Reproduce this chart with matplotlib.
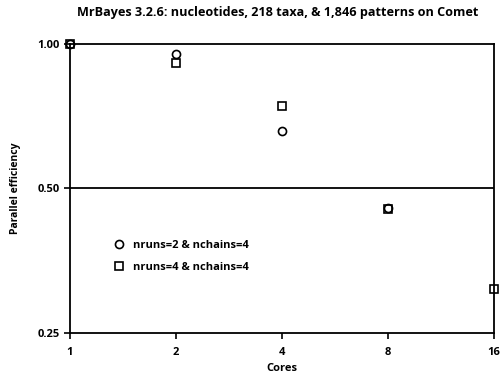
import matplotlib as mpl
import matplotlib.pyplot as plt
from matplotlib.ticker import FixedLocator, NullLocator

# parallel efficiency of MrBayes runs on Comet
cores_a = [1, 2, 4, 8]
eff_a = [1.00, 0.953, 0.657, 0.455]
label_a = 'nruns=2 & nchains=4'

cores_b = [1, 2, 4, 8, 16]
eff_b = [1.00, 0.913, 0.744, 0.453, 0.309]
label_b = 'nruns=4 & nchains=4'

xticks = [1, 2, 4, 8, 16]
yticks = [0.25, 0.50, 1.00]
ytick_labels = ['0.25', '0.50', '1.00']

mpl.rcParams['font.family'] = 'Open Sans'
mpl.rcParams['font.weight'] = 'bold'
mpl.rcParams['axes.linewidth'] = 1.3

fig = plt.figure(figsize=(5.02, 3.75), dpi=100)
ax = fig.add_axes([0.139, 0.112, 0.845, 0.771])

ax.set_xscale('log', base=2)
ax.set_yscale('log', base=2)

mk = dict(linestyle='none', markersize=5.8, markeredgecolor='black',
          markeredgewidth=1.2, markerfacecolor='none', clip_on=False)
l1 = ax.plot(cores_a, eff_a, marker='o', label=label_a, zorder=3, **mk)
l2 = ax.plot(cores_b, eff_b, marker='s', label=label_b, zorder=4, **mk)

ax.axhline(0.5, color='black', linewidth=1.3, zorder=1)

ax.set_xlim(1, 16)
ax.set_ylim(0.25, 1.0)
ax.xaxis.set_major_locator(FixedLocator(xticks))
ax.xaxis.set_minor_locator(NullLocator())
ax.set_xticklabels([str(c) for c in xticks])
ax.yaxis.set_major_locator(FixedLocator(yticks))
ax.yaxis.set_minor_locator(NullLocator())
ax.set_yticklabels(ytick_labels)
ax.tick_params(axis='both', direction='out', length=4, width=1.2, labelsize=8, pad=3)
ax.tick_params(axis='x', pad=6)

ax.set_xlabel('Cores', fontsize=8, fontweight='bold', labelpad=4)
ax.set_ylabel('Parallel efficiency', fontsize=7.5, fontweight='bold', labelpad=12)
fig.suptitle('MrBayes 3.2.6: nucleotides, 218 taxa, & 1,846 patterns on Comet',
             x=0.553, y=0.985, fontsize=9.1, fontweight='bold')

lg = ax.legend(l1 + l2, [label_a, label_b], loc='upper left',
               bbox_to_anchor=(0.082, 0.355), frameon=False, fontsize=8,
               handletextpad=0.9, labelspacing=0.95, handlelength=0.8)
for t in lg.get_texts():
    t.set_fontweight('bold')

plt.savefig('out.png', dpi=100)
